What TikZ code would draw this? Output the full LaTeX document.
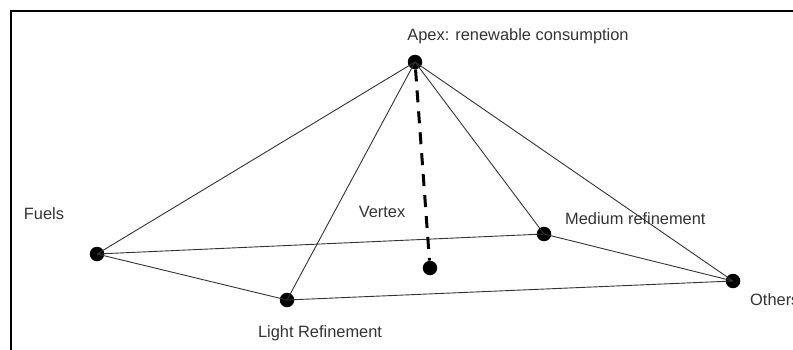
\documentclass[tikz,border=0pt]{standalone}
\usepackage{fontspec}
\setmainfont{Liberation Sans}
\begin{document}
\begin{tikzpicture}[x=1pt,y=-1pt,
  dot/.style={circle,fill=black,inner sep=0pt,minimum size=14.5pt},
  edge/.style={draw=black!80,line width=0.9pt},
  lbl/.style={font=\fontsize{16.4}{18}\selectfont,text=black!80,inner sep=0pt},
  dashline/.style={draw=black,line width=3pt,dash pattern=on 12pt off 9pt}]
\useasboundingbox (0,0) rectangle (793,350);
\coordinate (c1) at (11,350);
\coordinate (c2) at (11,11);
\coordinate (c3) at (800,11);
\draw[line width=2.2pt] (c1) -- (c2) -- (c3);
\node[dot] (apex) at (415,62) {};
\node[dot] (fuels) at (97,254) {};
\node[dot] (light) at (287,300) {};
\node[dot] (medium) at (544,234) {};
\node[dot] (others) at (733,281) {};
\node[dot] (vertex) at (430,268) {};
\draw[edge] (apex.center) -- (fuels.center);
\draw[edge] (apex.center) -- (light.center);
\draw[edge] (apex.center) -- (medium.center);
\draw[edge] (apex.center) -- (others.center);
\draw[edge] (fuels.center) -- (medium.center);
\draw[edge] (fuels.center) -- (light.center);
\draw[edge] (light.center) -- (others.center);
\draw[edge] (medium.center) -- (others.center);
\draw[dashline] (apex) -- (vertex);
\node[lbl] (tApex) at (518,36) {Apex: renewable consumption};
\node[lbl] (tFuels) at (44,214) {Fuels};
\node[lbl] (tVertex) at (382,212) {Vertex};
\node[lbl,anchor=west] (tMed) at (565,219) {Medium refinement};
\node[lbl,anchor=west] (tOth) at (750,300) {Others};
\node[lbl] (tLight) at (320,333) {Light Refinement};
\end{tikzpicture}
\end{document}
